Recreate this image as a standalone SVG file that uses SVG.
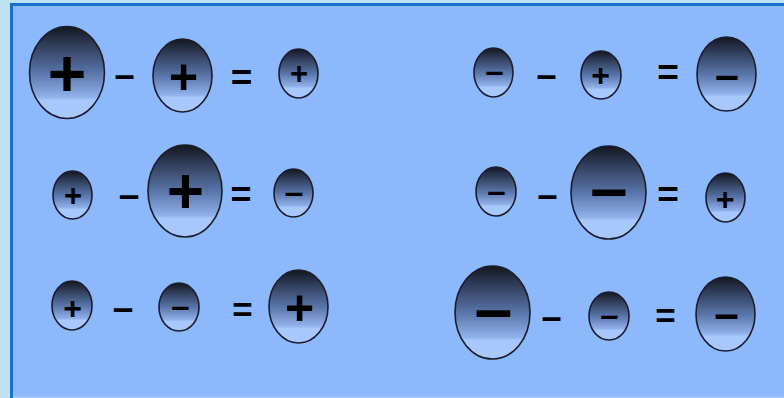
<svg xmlns="http://www.w3.org/2000/svg" width="784" height="398" viewBox="0 0 784 398">
<defs>
<linearGradient id="g" x1="0" y1="0" x2="0" y2="1">
<stop offset="0" stop-color="#12161f"/>
<stop offset="0.2" stop-color="#303d5a"/>
<stop offset="0.5" stop-color="#5874a8"/>
<stop offset="0.77" stop-color="#92b2ec"/>
<stop offset="0.8" stop-color="#a8c8fd"/>
<stop offset="1" stop-color="#a8c8fd"/>
</linearGradient>
</defs>
<style>
.e{fill:url(#g);stroke:#1b1d28;stroke-width:1.6}
.t{font-family:"Liberation Sans",Arial,sans-serif;font-weight:bold;fill:#000;text-anchor:middle}
</style>
<rect x="0" y="0" width="784" height="398" fill="#bfe2f3"/>
<rect x="10" y="3" width="774" height="395" fill="#1a6fd0"/>
<rect x="13" y="6" width="771" height="391" fill="#8cb8fd"/>
<rect x="13" y="396" width="771" height="2" fill="#a2c6f6"/>

<g id="row1-left">
<g id="e1"><ellipse class="e" cx="67" cy="72.5" rx="37.5" ry="46"/><text class="t" x="67" y="96" font-size="66">+</text></g>
<text class="t" x="124.5" y="86.5" font-size="36">–</text>
<g id="e2"><ellipse class="e" cx="182.5" cy="75.5" rx="29.5" ry="36.5"/><text class="t" x="183.5" y="94" font-size="50">+</text></g>
<text class="t" x="241.5" y="90" font-size="37">=</text>
<g id="e3"><ellipse class="e" cx="298.5" cy="73.5" rx="19.5" ry="24.5"/><text class="t" x="299" y="84" font-size="31">+</text></g>
</g>

<g id="row1-right">
<g id="e4"><ellipse class="e" cx="493.5" cy="72.5" rx="19.5" ry="24.5"/><text class="t" x="494.5" y="82" font-size="33">–</text></g>
<text class="t" x="546.5" y="86.5" font-size="36">–</text>
<g id="e5"><ellipse class="e" cx="601" cy="75" rx="20" ry="24"/><text class="t" x="600.5" y="85.5" font-size="32">+</text></g>
<text class="t" x="668" y="85" font-size="37">=</text>
<g id="e6"><ellipse class="e" cx="726.5" cy="74" rx="29.5" ry="37"/><text class="t" x="727" y="89" font-size="43">–</text></g>
</g>

<g id="row2-left">
<g id="e7"><ellipse class="e" cx="72.5" cy="195" rx="19.5" ry="24"/><text class="t" x="73" y="205.5" font-size="31">+</text></g>
<text class="t" x="129" y="206.5" font-size="37">–</text>
<g id="e8"><ellipse class="e" cx="185" cy="191" rx="37" ry="46"/><text class="t" x="185.5" y="213" font-size="64">+</text></g>
<text class="t" x="241" y="207" font-size="36">=</text>
<g id="e9"><ellipse class="e" cx="293.5" cy="193" rx="19.5" ry="24"/><text class="t" x="294" y="202.5" font-size="34">–</text></g>
</g>

<g id="row2-right">
<g id="e10"><ellipse class="e" cx="496" cy="191.5" rx="20" ry="24.5"/><text class="t" x="496.5" y="201.5" font-size="33">–</text></g>
<text class="t" x="547.5" y="206.5" font-size="36">–</text>
<g id="e11"><ellipse class="e" cx="608.5" cy="192.5" rx="37.5" ry="46.5"/><text class="t" x="609" y="210.5" font-size="67">–</text></g>
<text class="t" x="668" y="207" font-size="37">=</text>
<g id="e12"><ellipse class="e" cx="725.5" cy="197.5" rx="19.5" ry="24.5"/><text class="t" x="725" y="210" font-size="32">+</text></g>
</g>

<g id="row3-left">
<g id="e13"><ellipse class="e" cx="72" cy="305.5" rx="20" ry="24.5"/><text class="t" x="72.5" y="318.5" font-size="32">+</text></g>
<text class="t" x="123" y="319.5" font-size="37">–</text>
<g id="e14"><ellipse class="e" cx="179" cy="307" rx="20" ry="24"/><text class="t" x="180.5" y="317" font-size="33">–</text></g>
<text class="t" x="242.5" y="322" font-size="35">=</text>
<g id="e15"><ellipse class="e" cx="298.5" cy="306.5" rx="29.5" ry="36.5"/><text class="t" x="299.5" y="325" font-size="50">+</text></g>
</g>

<g id="row3-right">
<g id="e16"><ellipse class="e" cx="492.5" cy="312.5" rx="37.5" ry="46.5"/><text class="t" x="493.5" y="332" font-size="68">–</text></g>
<text class="t" x="551.5" y="328.5" font-size="36">–</text>
<g id="e17"><ellipse class="e" cx="609" cy="316" rx="20" ry="24"/><text class="t" x="609.5" y="325.5" font-size="33">–</text></g>
<text class="t" x="665.5" y="328" font-size="35">=</text>
<g id="e18"><ellipse class="e" cx="725.5" cy="314" rx="29.5" ry="37"/><text class="t" x="726.5" y="329" font-size="44">–</text></g>
</g>
</svg>
